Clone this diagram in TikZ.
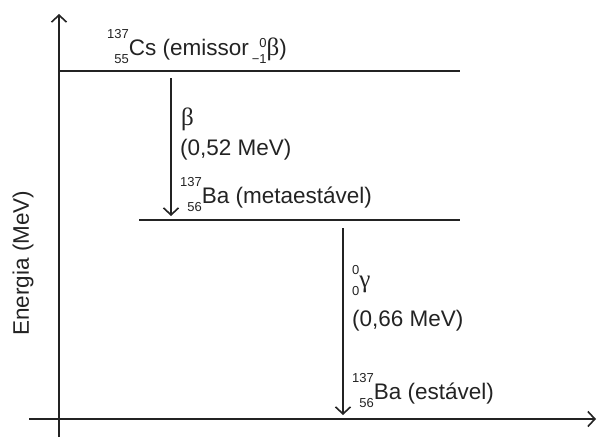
\documentclass[tikz,border=0pt]{standalone}
\usepackage{fontspec}
\setmainfont{Liberation Sans}
\newfontfamily\grk{Liberation Serif}
\usetikzlibrary{arrows.meta}
\definecolor{ink}{RGB}{35,35,35}
\newcommand\scr{\fontsize{13}{15}\selectfont}
\newcommand\gk[1]{{\fontsize{25}{28}\selectfont\grk #1}}
% \nuc[raise of upper]{upper}{lower}
\newcommand\nuc[3][17pt]{\setbox0\hbox{\scr #2}\setbox2\hbox{\scr #3}%
  \dimen0=\wd0 \ifdim\wd2>\dimen0 \dimen0=\wd2\fi
  \hbox to\dimen0{\hfill\raisebox{#1}{\copy0}\llap{\raisebox{-8pt}{\copy2}}}}
\tikzset{
  axis/.style={line width=1.3pt, draw=ink, -{Straight Barb[length=7pt,width=15pt,line width=1.6pt]}},
  level/.style={line width=1.4pt, draw=ink},
  trans/.style={line width=1.2pt, draw=ink, -{Straight Barb[length=7pt,width=15pt,line width=1.6pt]}},
  lbl/.style={anchor=base west, inner sep=0pt, text=ink, font=\fontsize{22.5}{26}\selectfont}
}
\begin{document}
\begin{tikzpicture}[x=1pt,y=-1pt]
\useasboundingbox (0,0) rectangle (597,439);
% axes
\coordinate (vb) at (59,437);
\coordinate (vt) at (59,14);
\coordinate (hl) at (29,419);
\coordinate (hr) at (596,419);
\draw[axis] (vb) -- (vt);
\draw[axis] (hl) -- (hr);
% levels
\coordinate (l1a) at (59,71);
\coordinate (l1b) at (460,71);
\coordinate (l2a) at (139,220);
\coordinate (l2b) at (460,220);
\draw[level] (l1a) -- (l1b);
\draw[level] (l2a) -- (l2b);
% transitions
\coordinate (b1) at (171,78);
\coordinate (b2) at (171,216);
\coordinate (g1) at (343,228);
\coordinate (g2) at (343,415);
\draw[trans] (b1) -- (b2);
\draw[trans] (g1) -- (g2);
% labels
\node[lbl] (cs) at (107,55) {\nuc{137}{55}Cs (emissor\hspace{3pt}\nuc[8pt]{0}{−1}\gk{β})};
\node[lbl] (beta) at (181,125) {\gk{β}};
\node[lbl] (e1) at (180,155) {(0,52 MeV)};
\node[lbl] (bam) at (180,203) {\nuc{137}{56}Ba (metaestável)};
\node[lbl] (gam) at (352,287) {\nuc[13pt]{0}{0}\gk{γ}};
\node[lbl] (e2) at (352,326) {(0,66 MeV)};
\node[lbl] (bae) at (352,399) {\nuc{137}{56}Ba (estável)};
\node[anchor=center, rotate=90, inner sep=0pt, text=ink, font=\fontsize{22.5}{26}\selectfont] (yl) at (23,263) {Energia (MeV)};
\end{tikzpicture}
\end{document}
